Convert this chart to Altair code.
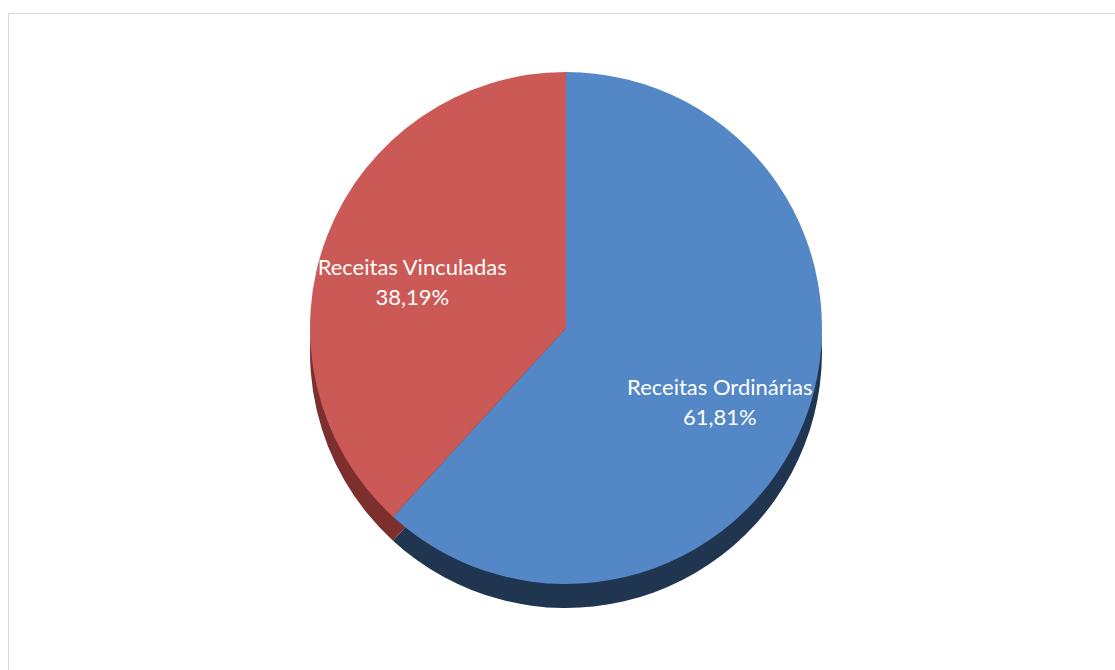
import altair as alt
import pandas as pd

categories = ["Receitas Ordinárias", "Receitas Vinculadas"]
values = [61.81, 38.19]
pct_labels = ["61,81%", "38,19%"]
order = [1, 2]

top_colors = ["#5387C5", "#CB5956"]
side_colors = ["#1F3550", "#7D2F2D"]

df = pd.DataFrame({
    "category": categories,
    "value": values,
    "order": order,
    "label": [f"{c}\n{p}" for c, p in zip(categories, pct_labels)],
})

W, H = 1107, 657
CX, CY = 558, 315
R = 256
DEPTH = 24

base = alt.Chart(df).encode(
    theta=alt.Theta("value:Q", stack=True),
    order=alt.Order("order:Q"),
)

side = base.mark_arc(outerRadius=R, strokeWidth=0).encode(
    x=alt.value(CX),
    y=alt.value(CY + DEPTH),
    color=alt.Color("category:N", scale=alt.Scale(domain=categories, range=side_colors), legend=None),
)

top = base.mark_arc(outerRadius=R, strokeWidth=0).encode(
    x=alt.value(CX),
    y=alt.value(CY),
    color=alt.Color("category:N", scale=alt.Scale(domain=categories, range=top_colors), legend=None),
)

text = base.mark_text(
    radius=165, fontSize=22, font="Lato", color="white",
    lineBreak="\n", lineHeight=30, align="center", baseline="middle",
).encode(
    x=alt.value(CX),
    y=alt.value(CY),
    text="label:N",
)

chart = alt.layer(side, top, text).resolve_scale(color="independent").properties(
    width=W, height=H,
    padding={"left": 8, "top": 13, "right": 0, "bottom": 0},
    background="white",
).configure_view(stroke="#D9D9D9", strokeWidth=1)

chart.save("out.html", embed_options={"renderer": "svg", "actions": False})
